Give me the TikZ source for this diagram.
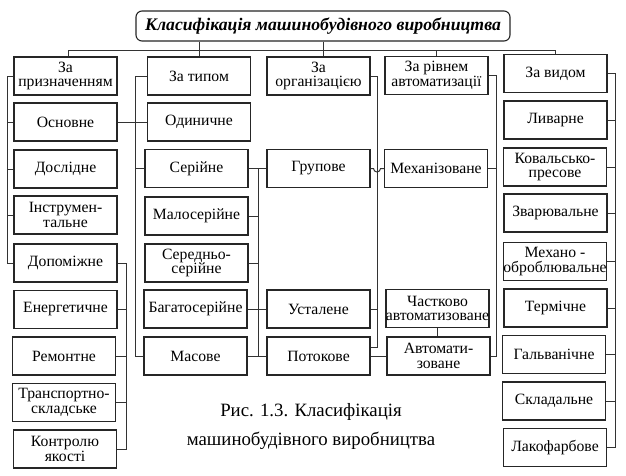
\documentclass[tikz,border=0pt]{standalone}
\usepackage{fontspec}
\setmainfont{Liberation Serif}
\usetikzlibrary{calc}
\begin{document}
\begin{tikzpicture}[x=1pt,y=-1pt,
  box/.style={draw=black!85, line width=1.1pt, fill=white, minimum width=103pt, minimum height=38pt, inner sep=0pt, align=center, font=\fontsize{15.7}{14.5}\selectfont},
  heavybox/.style={box, line width=1.7pt},
  conn/.style={draw=black!80, line width=1pt},
]
\fill[white] (0,0) rectangle (626,475);
\useasboundingbox (0,0) rectangle (626,475);

% title
\node[draw=black!85, line width=1.1pt, rounded corners=6pt, minimum width=374pt, minimum height=30pt, inner sep=0pt,
      font=\fontsize{17.7}{17.7}\selectfont\bfseries\itshape] (title) at (323,26) {Класифікація машинобудівного виробництва};

% column 1
\node[box] (p0) at (65.5,76) {За\\призначенням};
\node[box] (p1) at (65.5,122) {Основне};
\node[box] (p2) at (65.5,169) {Дослідне};
\node[box] (p3) at (65.5,215) {Інструмен-\\тальне};
\node[box] (p4) at (65.5,263) {Допоміжне};
\node[box] (p5) at (65.5,309.5) {Енергетичне};
\node[box] (p6) at (64,356) {Ремонтне};
\node[box] (p7) at (64,402.5) {Транспортно-\\складське};
\node[box] (p8) at (65,449) {Контролю\\якості};

% column 2
\node[heavybox] (t0) at (199,76) {За типом};
\node[heavybox] (t1) at (199,122) {Одиничне};
\node[box] (t2) at (196.5,168.5) {Серійне};
\node[box] (t3) at (196.5,216) {Малосерійне};
\node[box] (t4) at (196.5,263) {Середньо-\\серійне};
\node[heavybox] (t5) at (195.5,309) {Багатосерійне};
\node[box] (t6) at (195.5,356) {Масове};

% column 3
\node[box] (o0) at (318.5,76) {За\\організацією};
\node[box] (o1) at (318.5,168.5) {Групове};
\node[box] (o2) at (318.5,309) {Усталене};
\node[box] (o3) at (318.5,356) {Потокове};

% column 4
\node[box] (a0) at (436.5,75.5) {За рівнем\\автоматизації};
\node[box] (a1) at (436,168.5) {Механізоване};
\node[heavybox] (a2) at (437.5,308.5) {Частково\\автоматизоване};
\node[box] (a3) at (438.5,356) {Автомати-\\зоване};

% column 5
\node[box] (v0) at (555.5,73.5) {За видом};
\node[box] (v1) at (555.5,120) {Ливарне};
\node[box] (v2) at (555,167) {Ковальсько-\\пресове};
\node[box] (v3) at (555.5,213) {Зварювальне};
\node[box] (v4) at (555,261.5) {Механо -\\оброблювальне};
\node[box] (v5) at (555.5,308) {Термічне};
\node[heavybox] (v6) at (554,354.5) {Гальванічне};
\node[heavybox] (v7) at (554,401) {Складальне};
\node[box] (v8) at (555,447.5) {Лакофарбове};

% caption
\node[align=center, inner sep=0pt, font=\fontsize{18.8}{29}\selectfont] (cap) at (311,426.5) {Рис. 1.3. Класифікація\\машинобудівного виробництва};

% top bus
\coordinate (bL) at (68,50);
\coordinate (bR) at (555.5,50);
\draw[conn] (bL) -- (bR);
\draw[conn] (bL) -- (bL |- p0.north);
\draw[conn] (title.south -| t0.north) -- (t0.north);
\draw[conn] (title.south) -- (title.south |- o0.north);
\draw[conn] (a0.north |- bR) -- (a0.north);
\draw[conn] (bR) -- (v0.north);

% column 1 buses
\coordinate (L1) at (7,0);
\draw[conn] (p0.west) -| (L1 |- p4.west) -- (p4.west);
\foreach \n in {p1,p2,p3} \draw[conn] (\n.west) -- (\n.west -| L1);
\coordinate (R1) at (126,0);
\draw[conn] (p4.east) -| (R1 |- p8.east) -- (p8.east);
\foreach \n in {p5,p6,p7} \draw[conn] (\n.east) -- (\n.east -| R1);
\draw[conn] (p1.east) -- (t1.west);

% column 2 buses
\coordinate (L2) at (135,0);
\draw[conn] (t0.west) -| (L2 |- t6.west) -- (t6.west);
\draw[conn] (t2.west) -- (t2.west -| L2);
\coordinate (R2) at (258,0);
\draw[conn] (R2 |- t2.east) -- (R2 |- t6.east);
\draw[conn] (t2.east) -- (t2.east -| o1.west);
\foreach \n in {t3,t4} \draw[conn] (\n.east) -- (\n.east -| R2);
\draw[conn] (t5.east) -- (t5.east -| o2.west);
\draw[conn] (t6.east) -- (t6.east -| o3.west);

% column 3 bus
\coordinate (R3) at (377,0);
\draw[conn] (o0.east) -| ($(R3 |- o3.east)+(0,-9)$) -- ($(o3.east)+(0,-9)$);
\draw[conn] (o2.east) -- (o2.east -| R3);
\draw[conn] (o1.east) -- ($(o1.east -| R3)+(-3.5,0)$) arc[start angle=180, end angle=0, radius=3.5] -- (o1.east -| a1.west);
\draw[conn] (o3.east) -- (o3.east -| a3.west);

% column 4
\draw[conn] (a2.south) -- (a2.south |- a3.north);
\coordinate (R4) at (496,0);
\draw[conn] (a0.east) -| (R4 |- a3.east) -- (a3.east);
\draw[conn] (a1.east) -- (a1.east -| R4);

% column 5
\coordinate (R5) at (615,0);
\draw[conn] (v0.east) -| (R5 |- v8.east) -- (v8.east);
\foreach \n in {v1,v2,v3,v4,v5,v6,v7} \draw[conn] (\n.east) -- (\n.east -| R5);
\end{tikzpicture}
\end{document}
